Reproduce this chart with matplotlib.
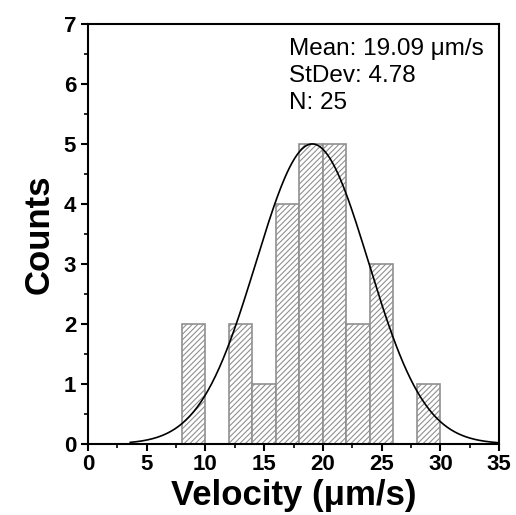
import numpy as np
import matplotlib
matplotlib.use("Agg")
import matplotlib.pyplot as plt
from matplotlib.ticker import MultipleLocator

plt.rcParams['font.family'] = ['Liberation Sans', 'DejaVu Sans']
plt.rcParams['hatch.color'] = '#909090'
plt.rcParams['hatch.linewidth'] = 0.8

# histogram data
bin_left = [8, 10, 12, 14, 16, 18, 20, 22, 24, 26, 28]
counts = [2, 0, 2, 1, 4, 5, 5, 2, 3, 0, 1]
bin_width = 2

# normal fit parameters
mean = 19.09
stdev = 4.78
n = 25
peak = 5.0
fit_range = (3.6, 35)

fig = plt.figure(figsize=(5.16, 5.15), dpi=100)
ax = fig.add_axes([0.1705, 0.138, 0.797, 0.8155])

for x, c in zip(bin_left, counts):
    if c > 0:
        ax.bar(x, c, width=bin_width, align='edge', facecolor='white',
               edgecolor='#909090', hatch='//////', linewidth=1.2)

xs = np.linspace(fit_range[0], fit_range[1], 300)
ys = peak * np.exp(-0.5 * ((xs - mean) / stdev) ** 2)
ax.plot(xs, ys, color='black', lw=1.2)

ax.set_xlim(0, 35)
ax.set_ylim(0, 7)
ax.xaxis.set_major_locator(MultipleLocator(5))
ax.xaxis.set_minor_locator(MultipleLocator(2.5))
ax.yaxis.set_major_locator(MultipleLocator(1))
ax.yaxis.set_minor_locator(MultipleLocator(0.5))
ax.tick_params(which='major', direction='out', length=5, width=1.5, labelsize=16)
ax.tick_params(axis='x', which='major', pad=2)
ax.tick_params(which='minor', direction='out', length=3, width=1.2)
for lab in ax.get_xticklabels() + ax.get_yticklabels():
    lab.set_fontweight('bold')
for s in ax.spines.values():
    s.set_linewidth(1.5)

ax.set_xlabel('Velocity (\u03bcm/s)', fontsize=25, fontweight='bold', labelpad=3)
ax.set_ylabel('Counts', fontsize=25, fontweight='bold', labelpad=6)

ax.text(0.49, 0.966, 'Mean: %.2f \u03bcm/s\nStDev: %.2f\nN: %d' % (mean, stdev, n),
        transform=ax.transAxes, ha='left', va='top', fontsize=17.5, linespacing=1.3)

fig.savefig('out.png', dpi=100)
